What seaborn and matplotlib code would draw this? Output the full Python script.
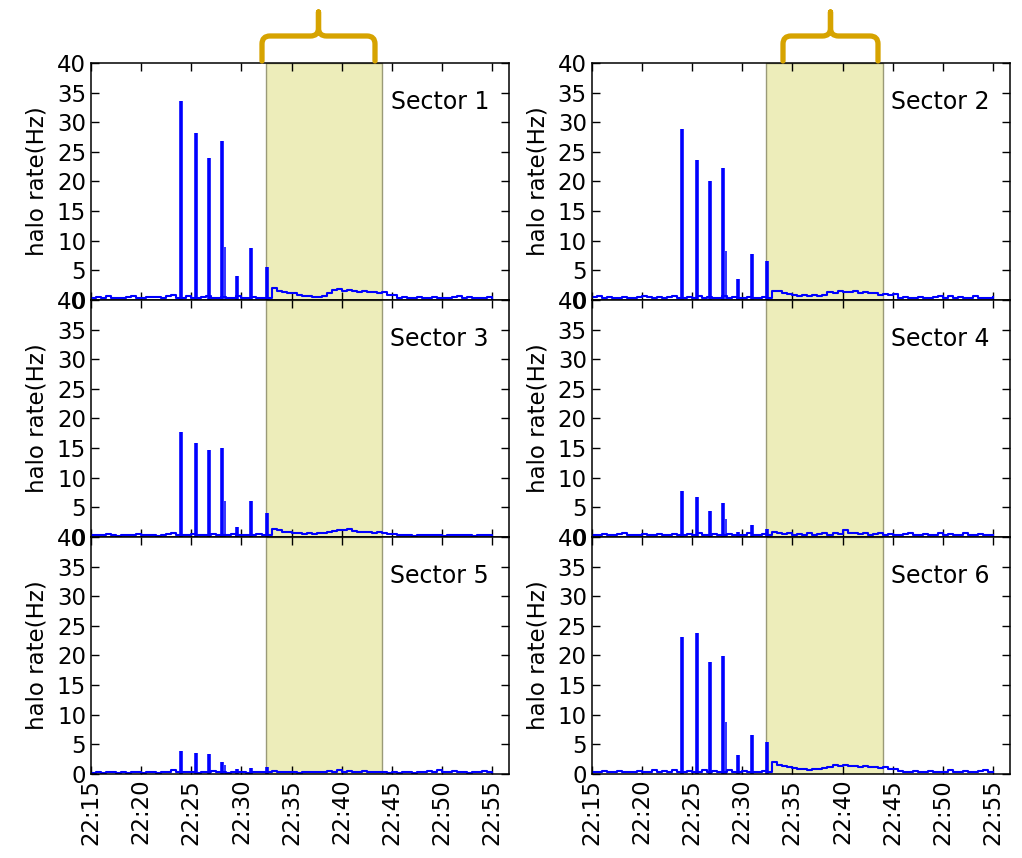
import matplotlib
matplotlib.use("Agg")
import matplotlib.pyplot as plt
import matplotlib.dates as mdates
from matplotlib.path import Path
from matplotlib.patches import PathPatch
import seaborn as sns
import pandas as pd

# Data: halo rate per sector, 30 s samples 22:15 - 22:55
sectors = ["Sector 1", "Sector 2", "Sector 3", "Sector 4", "Sector 5", "Sector 6"]

base_s1 = [0.4, 0.5, 0.3, 0.6, 0.3, 0.4, 0.3, 0.5, 0.6, 0.3, 0.4, 0.5, 0.5, 0.5, 0.4, 0.6, 0.8, 0.4,
           0.4, 0.7, 0.4, 0.3, 0.5, 0.6, 0.3, 0.4, 0.5, 0.3, 0.4, 0.6, 0.4, 0.3, 0.5, 0.3, 0.4, 0.4,
           2.0, 1.6, 1.4, 1.2, 1.1, 0.9, 0.6, 0.7, 0.5, 0.5,
           0.6, 1.2, 1.7, 1.8, 1.6, 1.7, 1.5, 1.4, 1.5, 1.3, 1.4, 1.2, 1.3, 0.9,
           0.8, 0.4, 0.5, 0.3, 0.4, 0.5, 0.3, 0.4, 0.5, 0.4, 0.3, 0.4, 0.5, 0.6, 0.4, 0.5, 0.4, 0.3, 0.4, 0.5, 0.3]
base_s2 = [0.5, 0.6, 0.4, 0.5, 0.3, 0.4, 0.5, 0.4, 0.3, 0.5, 0.6, 0.5, 0.4, 0.5, 0.3, 0.5, 0.6, 0.4,
           0.3, 0.5, 0.4, 0.6, 0.4, 0.5, 0.3, 0.4, 0.7, 0.4, 0.5, 0.3, 0.4, 0.5, 0.3, 0.4, 0.5, 0.4,
           1.6, 1.5, 1.2, 1.0, 0.8, 0.7, 0.9, 0.6, 0.8, 0.7,
           0.9, 1.4, 1.1, 1.5, 1.3, 1.4, 1.6, 1.2, 1.3, 1.1, 1.2, 0.9, 1.0, 0.8,
           1.0, 0.4, 0.5, 0.4, 0.3, 0.5, 0.4, 0.3, 0.5, 0.6, 0.4, 0.7, 0.4, 0.5, 0.3, 0.4, 0.6, 0.4, 0.3, 0.4, 0.5]
base_s3 = [0.3, 0.4, 0.3, 0.5, 0.3, 0.2, 0.4, 0.3, 0.4, 0.5, 0.3, 0.3, 0.4, 0.2, 0.3, 0.5, 0.6, 0.3,
           0.3, 0.4, 0.5, 0.3, 0.3, 0.4, 0.5, 0.3, 0.4, 0.3, 0.5, 0.4, 0.3, 0.4, 0.3, 0.5, 0.4, 0.3,
           1.4, 1.1, 0.9, 0.8, 0.7, 0.6, 0.5, 0.6, 0.5, 0.6,
           0.7, 0.8, 1.0, 1.2, 1.1, 1.3, 1.0, 0.9, 0.8, 0.9, 0.7, 0.8, 0.6, 0.5,
           0.5, 0.3, 0.4, 0.3, 0.2, 0.4, 0.3, 0.3, 0.4, 0.3, 0.2, 0.3, 0.4, 0.3, 0.3, 0.4, 0.2, 0.3, 0.4, 0.3, 0.2]
base_s4 = [0.4, 0.3, 0.5, 0.4, 0.3, 0.5, 0.6, 0.4, 0.3, 0.4, 0.5, 0.3, 0.4, 0.5, 0.3, 0.4, 0.5, 0.3,
           0.4, 0.5, 0.3, 0.6, 0.4, 0.3, 0.5, 0.4, 0.3, 0.5, 0.4, 0.3, 0.4, 0.6, 0.3, 0.4, 0.5, 0.4,
           0.8, 0.7, 0.5, 0.6, 0.4, 0.5, 0.3, 0.6, 0.4, 0.5,
           0.6, 0.4, 0.7, 0.5, 1.1, 0.6, 0.7, 0.5, 0.6, 0.4, 0.5, 0.6, 0.4, 0.5,
           0.4, 0.3, 0.5, 0.6, 0.4, 0.3, 0.5, 0.4, 0.3, 0.6, 0.4, 0.5, 0.3, 0.4, 0.6, 0.3, 0.4, 0.5, 0.3, 0.4, 0.3]
base_s5 = [0.2, 0.3, 0.2, 0.3, 0.4, 0.2, 0.3, 0.2, 0.4, 0.3, 0.2, 0.3, 0.4, 0.2, 0.3, 0.4, 0.6, 0.3,
           0.3, 0.4, 0.3, 0.2, 0.4, 0.3, 0.5, 0.3, 0.4, 0.2, 0.3, 0.4, 0.3, 0.2, 0.3, 0.4, 0.3, 0.4,
           0.5, 0.4, 0.3, 0.4, 0.3, 0.2, 0.4, 0.3, 0.4, 0.3,
           0.4, 0.5, 0.3, 0.6, 0.4, 0.5, 0.4, 0.3, 0.5, 0.4, 0.3, 0.4, 0.3, 0.2,
           0.3, 0.2, 0.4, 0.3, 0.2, 0.4, 0.3, 0.5, 0.3, 0.6, 0.4, 0.3, 0.5, 0.4, 0.3, 0.2, 0.4, 0.3, 0.5, 0.3, 0.2]
base_s6 = [0.4, 0.3, 0.5, 0.4, 0.3, 0.5, 0.4, 0.3, 0.4, 0.5, 0.3, 0.4, 0.6, 0.4, 0.5, 0.3, 0.7, 0.4,
           0.3, 0.5, 0.4, 0.3, 0.6, 0.4, 0.5, 0.3, 0.4, 0.6, 0.3, 0.4, 0.5, 0.3, 0.4, 0.3, 0.5, 0.4,
           2.0, 1.5, 1.3, 1.1, 1.0, 0.9, 0.8, 0.7, 0.8, 0.9,
           1.0, 1.2, 1.5, 1.4, 1.6, 1.3, 1.4, 1.2, 1.3, 1.1, 1.2, 1.0, 1.1, 0.9,
           0.9, 0.5, 0.4, 0.3, 0.5, 0.4, 0.3, 0.5, 0.4, 0.3, 0.4, 0.6, 0.3, 0.4, 0.5, 0.3, 0.4, 0.5, 0.6, 0.4, 0.3]
baselines = [base_s1, base_s2, base_s3, base_s4, base_s5, base_s6]

# short injection spikes (same times in every sector)
spike_times = ["22:24:00", "22:25:30", "22:26:48", "22:28:06", "22:29:36", "22:31:00", "22:32:30"]
spike_s1 = [33.5, 28.2, 24.0, 26.8, 4.1, 8.8, 5.5]
spike_s2 = [28.8, 23.7, 20.0, 22.3, 3.5, 7.8, 6.5]
spike_s3 = [17.8, 15.8, 14.6, 15.0, 1.7, 6.0, 4.0]
spike_s4 = [7.7, 6.8, 4.4, 5.8, 0.9, 2.0, 1.3]
spike_s5 = [3.9, 3.5, 3.3, 2.1, 0.8, 1.0, 1.1]
spike_s6 = [23.1, 23.8, 18.9, 19.9, 3.2, 6.6, 5.4]
spikes = [spike_s1, spike_s2, spike_s3, spike_s4, spike_s5, spike_s6]

# small after-pulse following the 4th spike
after_time = "22:28:24"
after_vals = [9.0, 8.2, 6.1, 3.1, 1.5, 8.8]

span_start, span_end = "22:32:24", "22:44:00"

day = "2012-01-01 "
times = pd.date_range(day + "22:15:00", day + "22:55:00", freq="30s")
spike_ts = pd.to_datetime([day + t for t in spike_times])
after_ts = pd.Timestamp(day + after_time)

# Plotting
W, H = 1022, 858
fig, axes = plt.subplots(3, 2, figsize=(W / 100, H / 100), dpi=100, sharex=True)
fig.subplots_adjust(left=0.089, right=0.988, top=0.9266, bottom=0.0979, hspace=0, wspace=0.198)

blue = "#0000ff"
for i, ax in enumerate(axes.flat):
    ax.axvspan(pd.Timestamp(day + span_start), pd.Timestamp(day + span_end),
               facecolor=(0.75, 0.75, 0.0, 0.27), edgecolor=(0.45, 0.45, 0.3, 0.7), lw=1, zorder=0)
    df = pd.DataFrame({"time": times, "rate": baselines[i]})
    sns.lineplot(data=df, x="time", y="rate", ax=ax, color=blue, lw=1.5,
                 drawstyle="steps-post", estimator=None)
    ax.vlines(spike_ts, 0, spikes[i], color=blue, lw=2.6)
    ax.vlines(after_ts, 0, after_vals[i], color=blue, lw=1.1)

    ax.set_ylim(0, 40)
    ax.set_yticks(range(0, 41, 5))
    ax.set_xlim(pd.Timestamp(day + "22:15:00"), pd.Timestamp(day + "22:56:40"))
    ax.xaxis.set_major_locator(mdates.MinuteLocator(byminute=range(0, 60, 5)))
    ax.xaxis.set_major_formatter(mdates.DateFormatter("%H:%M"))
    ax.tick_params(direction="in", top=True, right=True, length=6, width=1, labelsize=16.5)
    ax.tick_params(axis="x", labelrotation=90)
    ax.set_xlabel("")
    ax.set_ylabel("halo rate(Hz)", fontsize=16.5, labelpad=6)
    for sp in ax.spines.values():
        sp.set_color("black")
        sp.set_linewidth(1.1)
    ax.text(0.952, 0.835, sectors[i], transform=ax.transAxes, ha="right", va="center", fontsize=17)

# gold braces above the shaded windows (figure pixel coords)
def brace(x0, x1):
    xc = (x0 + x1) / 2
    yb, yh, yt, r = 61, 36, 12, 8
    pts = [(x0, yb), (x0, yh + r), (x0, yh), (x0 + r, yh), (xc - r, yh), (xc, yh), (xc, yh - r),
           (xc, yt), (xc, yh - r), (xc, yh), (xc + r, yh), (x1 - r, yh), (x1, yh), (x1, yh + r), (x1, yb)]
    codes = [Path.MOVETO, Path.LINETO, Path.CURVE3, Path.CURVE3, Path.LINETO, Path.CURVE3, Path.CURVE3,
             Path.LINETO, Path.LINETO, Path.CURVE3, Path.CURVE3, Path.LINETO, Path.CURVE3, Path.CURVE3,
             Path.LINETO]
    verts = [(x / W, 1 - y / H) for x, y in pts]
    patch = PathPatch(Path(verts, codes), transform=fig.transFigure, fill=False,
                      edgecolor="#d6a300", lw=3.8, capstyle="round", joinstyle="round")
    fig.add_artist(patch)

brace(262, 375)
brace(783, 878)

fig.savefig("out.png", dpi=100)
